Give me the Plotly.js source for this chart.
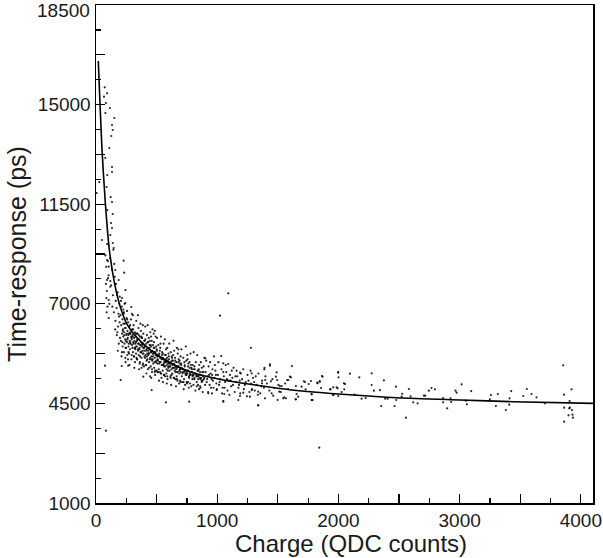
<!DOCTYPE html>
<html>
<head>
<meta charset="utf-8">
<script src="https://cdn.plot.ly/plotly-3.0.1.min.js"></script>
<style>html,body{margin:0;padding:0;background:#fff;}#chart{width:603px;height:558px;}</style>
</head>
<body>
<div id="chart"></div>
<script>
// ---------- tick labels ----------
const xTickVals = [0, 500, 1000, 1500, 2000, 2500, 3000, 3500, 4000];
const xTickText = ["0", "", "1000", "", "2000", "", "3000", "", "4000"];
const yTickVals = [1000, 2750, 4500, 6250, 8000, 9750, 11500, 13250, 15000, 16750, 18500];
const yTickText = ["1000", "", "4500", "", "7000", "", "11500", "", "15000", "", "18500"];

// ---------- fitted curve ----------
const fitCharge = [19, 50, 77, 110, 154, 200, 260, 363, 528, 775, 1050, 1325, 1600, 2000, 2480, 3000, 3442, 4100];
const fitTime   = [16530, 13400, 11550, 9900, 8700, 7900, 7250, 6700, 6140, 5610, 5320, 5140, 4980, 4830, 4700, 4620, 4560, 4500];

// ---------- events: steep low-charge region ----------
const steepCharge = [72, 91, 66, 82, 115, 77, 151, 132, 138, 126, 110, 77, 132, 132, 93, 27, 88, 5, 121, 132, 93, 138, 124, 132, 118, 138, 49, 146, 91, 228, 105, 159, 233, 91, 187, 118, 242, 173, 214, 105, 242, 291,
  82, 86, 88, 90, 95, 100, 105, 110, 84, 78, 92, 98, 104, 115, 118, 82, 74, 212, 266, 204];
const steepTime = [15607, 15397, 15277, 15056, 14880, 14704, 14529, 14283, 14107, 13896, 13474, 13123, 12807, 12631, 12526, 12279, 12104, 11893, 11752, 11577, 11296, 11155, 10839, 10663, 10417, 10136, 10242, 9960, 9539, 9514, 9303, 9187, 9092, 8836, 8836, 8600, 8484, 8309, 8203, 8133, 8028, 7887,
  8700, 8200, 7700, 8450, 7900, 8900, 7500, 8000, 9300, 9700, 10100, 9500, 9000, 9600, 8800, 3541, 5826, 5814, 5826, 5322];

// ---------- events: dense band ----------
const bandCharge = [
  125,132,140,148,155,160,163,170,172,178,182,185,188,192,195,198,150,165,176,143,158,190,196,135,180,
  202,205,208,210,212,215,218,220,222,225,228,230,232,235,238,240,242,245,248,250,252,255,258,260,262,265,268,270,272,275,278,280,282,285,288,290,292,295,298,300,206,226,244,256,276,296,214,236,264,284,
  302,305,308,310,312,315,318,320,322,325,328,330,332,335,338,340,342,345,348,350,352,355,358,360,362,365,368,370,372,375,378,380,382,385,388,390,392,395,398,400,304,316,334,346,356,366,376,386,396,324,344,364,384,336,374,
  402,405,408,410,412,415,418,420,422,425,428,430,432,435,438,440,442,445,448,450,452,455,458,460,462,465,468,470,472,475,478,480,482,485,488,490,492,495,498,500,406,426,446,466,486,416,436,456,476,496,424,444,464,484,454,
  502,506,510,514,518,522,526,530,534,538,542,546,550,554,558,562,566,570,574,578,582,586,590,594,598,504,520,536,552,568,584,512,528,544,560,576,592,540,564,588,508,532,556,580,596,
  602,607,612,617,622,627,632,637,642,647,652,657,662,667,672,677,682,687,692,697,604,620,640,660,680,698,614,634,654,674,694,630,650,670,690,610,645,665,685,625,
  702,708,714,720,726,732,738,744,750,756,762,768,774,780,786,792,798,705,723,741,759,777,795,717,735,753,771,789,729,747,765,783,711,756,799,
  803,810,817,824,831,838,845,852,859,866,873,880,887,894,806,820,835,850,865,880,895,812,828,842,858,872,888,900,848,862,
  905,913,921,929,937,945,953,961,969,977,985,993,909,925,941,957,973,989,917,933,949,965,981,997,958,
  1005,1015,1025,1035,1045,1055,1065,1075,1085,1095,1105,1115,1125,1135,1145,1155,1165,1175,1185,1195,1010,1040,1070,1100,1130,1160,1190,1020,1060,1110,1150,1180,1080,1120,1050,
  1205,1220,1235,1250,1265,1280,1295,1310,1325,1340,1355,1370,1385,1398,1215,1245,1275,1305,1335,1365,1390,1228,1258,1288,1318,
  1410,1430,1455,1470,1505,1525,1560,1585
];
const bandTime = [
  8650,9200,8300,7700,8950,7400,8100,7850,6900,8400,7200,7650,6600,8000,7350,6800,9400,8700,7000,9900,7100,7550,8250,7900,6350,
  7600,6700,7250,6150,7900,6950,7450,6500,7100,6850,7650,6300,7000,6600,7300,6750,6100,7150,6450,6900,7500,6650,6200,7050,6800,7350,6500,6950,6250,7200,6700,6400,7000,6600,7450,6850,6050,6750,7100,6450,8100,7800,5950,7750,5850,7650,6300,8000,6050,6950,
  6900,6300,6650,7250,6150,6800,6450,7000,5950,6600,6850,6250,7400,6500,6700,6050,6950,6400,6600,7150,6200,6750,6450,5900,6850,6550,6300,7050,6650,6100,6500,6800,6350,5850,6600,6950,6250,6450,6700,6150,7600,5750,6100,7600,5700,7300,5750,7250,5800,6400,6750,6150,6550,6950,6850,
  6500,6100,6750,5850,6350,6600,6000,6900,6250,6450,5700,6650,6200,6800,5950,6400,6550,6050,7000,6300,5800,6500,6150,6700,5600,6350,6050,6550,5900,6250,6650,5750,6450,6100,5500,6300,6850,5950,6200,5650,7200,7250,5450,7100,7050,5550,6250,5400,6950,6500,6050,6700,6000,5600,6850,
  6350,5900,6150,6550,5700,6250,5950,6450,5550,6100,5850,6300,5650,6050,6600,5800,6200,5450,5950,6400,5700,6100,5350,5900,6250,6800,5300,6850,5250,6750,5200,6000,5600,6200,5500,6050,5650,5400,5950,6450,5600,6600,5850,5550,5800,
  6050,5650,5900,6300,5500,6000,5750,6200,5400,5850,6100,5600,5950,6450,5300,5800,6050,5550,5900,5250,6600,5150,6700,5100,6400,6150,5450,6000,5350,6250,5700,5550,5750,5600,6000,5800,6350,5450,5200,6150,
  5850,5450,5700,6100,5350,5800,5550,6000,5200,5650,5900,5400,5750,6250,5100,5600,5850,6400,5000,6500,5250,5500,5350,5600,5150,6200,5950,5700,5950,5500,5050,5850,5250,6050,5500,
  5700,5350,5550,5950,5250,5650,5450,5850,5100,5500,5750,5300,5600,6100,6300,4950,6200,5000,5950,4900,5400,5800,5500,5150,5600,5250,5800,5150,5700,5350,
  5600,5250,5450,5800,5150,5550,5350,5700,5050,5400,5650,5200,6000,4900,5950,4850,6150,5500,5350,5500,5050,5300,5850,5000,5500,
  5500,5150,5350,5700,5050,5450,5250,5600,4950,5300,5500,5100,5400,5750,4900,5250,5450,5050,5300,5550,5950,4850,5850,4800,5150,5650,4850,5250,5050,5300,5450,5150,5350,5650,5600,
  5350,5000,5250,5500,4900,5200,5400,4950,5150,5550,4850,5300,5050,5450,5700,4750,5650,5250,4800,5100,5750,5150,5300,5000,5450,
  5200,4950,5350,5050,5150,4900,5200,5000
];

// ---------- events: dense core (extra) ----------
const coreCharge = [
  221,233,247,259,271,283,297,309,321,333,347,359,371,383,397,409,421,433,447,459,471,483,497,509,521,533,547,559,571,583,597,611,623,637,649,661,673,687,699,713,727,741,753,767,781,797,813,829,843,857,873,889,
  227,239,253,267,279,293,303,317,329,341,353,367,379,391,403,417,429,441,453,467,479,491,503,517,529,541,553,567,579,591,603,617,629,643,657,669,681,693,707,719,733,747,761,773,787,803,819,837,851,867,883,
  218,244,268,294,314,338,362,388,414,438,462,488,512,538,562,588,616,642,668,694,722,748,776,804,832,862,
  231,257,281,307,327,353,377,401,427,451,477,501,527,551,577,601,627,653,679,703,731,759,787,815,845,877
];
const coreTime = [
  7050,6900,6700,6750,6600,6650,6550,6600,6450,6500,6350,6400,6300,6250,6350,6200,6150,6250,6100,6050,6150,5950,6000,6050,5900,5950,5850,5900,5800,5850,5750,5800,5700,5750,5650,5700,5600,5650,5600,5550,5600,5500,5550,5450,5500,5450,5400,5450,5350,5400,5300,5350,
  7300,7150,6950,6900,6950,6800,6850,6700,6650,6750,6600,6550,6600,6450,6500,6400,6350,6450,6300,6250,6300,6200,6150,6200,6100,6050,6100,6000,5950,6000,5900,5950,5850,5900,5800,5750,5800,5700,5750,5700,5650,5600,5650,5550,5600,5500,5550,5450,5500,5400,5450,
  6650,6450,6300,6200,6150,6050,5950,5900,5850,5750,5700,5650,5600,5550,5500,5450,5400,5400,5350,5300,5250,5250,5200,5150,5100,5050,
  7700,7450,7250,7100,6950,6900,6800,6700,6650,6550,6450,6400,6350,6250,6200,6150,6100,6000,5950,5900,5850,5800,5750,5700,5650,5600
];

// ---------- events: tail (higher charge) ----------
const tailCharge = [1616,1517,1553,1586,1608,1649,1647,1668,1715,1729,1754,1773,1781,1779,1828,1845,1864,1856,1936,1957,1957,1998,2001,1993,1998,2026,2054,2048,2095,2133,2172,2191,2224,2274,2274,2293,2342,2353,2375,2386,2406,2463,2474,2477,2526,2521,2557,2581,2595,2617,2653,2705,2716,2746,2768,2796,2864,2864,2897,2925,2930,2966,2975,3016,3051,3060,3095,3249,3258,3299,3315,3381,3409,3412,3425,3524,3554,3593,3634,3703,3854,3860,3862,3862,3898,3904,3909,3923,3926,3931,3934,3907,1842,
  1091,1023,1278,901,1033,1050,1091,1435,1388,1188,1284,1490,1600,1998,1484,1869,1396,1443,1495,1578,1724,1825,1847,1369,1532,1696,1930,1985,2045,1284,1338,1215,1449,1512,1655,1779,1957,1270,1567,1649,1779,1050,1174,1188,1338,1498,1394,1787,926,995,1058,390,459,577,769,1050,1338,1462,1545,1435];
const tailTime = [5814,5111,4714,5322,5417,5111,4643,4736,5276,4995,5182,5287,4619,4819,5206,5276,5463,5041,4995,5065,4795,5603,5417,5030,4760,4900,5182,4995,5544,4805,5417,4665,4689,5557,5147,4946,4970,4408,5311,4665,4665,4408,5088,4619,4838,4736,4000,5006,4748,4538,4503,4771,4771,4946,5041,4995,4689,4538,4327,4678,4550,4946,4876,5170,4596,4468,4932,4643,4795,4408,4830,4268,4456,4678,4932,4760,5006,4830,4714,4503,5838,4805,4349,3857,4081,4327,4349,4995,4268,4104,4000,4584,2943,
  8368,7581,6453,6083,6164,5908,5884,5873,5697,5578,5557,5592,5440,5578,5440,5440,5322,5276,5322,5322,5252,5228,5262,5206,5111,5088,4995,5065,5206,4970,4912,4876,4854,4912,4830,4830,4795,4736,4678,4643,4619,4584,4619,4760,4432,4619,4678,4619,4854,4970,4830,5440,4970,4538,4560,4560,4432,4771,4678,5826];

const allCharge = steepCharge.concat(bandCharge, coreCharge, tailCharge);
const allTime = steepTime.concat(bandTime, coreTime, tailTime);

const FONT = '"Liberation Sans", Arial, Helvetica, sans-serif';
const TXT = '#1a1a1a';

// the top label sits at the very edge of the frame; it is drawn as an annotation nudged down so it stays in the picture
const topIdx = yTickVals.length - 1;
const yTickTextAxis = yTickText.map((t, i) => (i === topIdx ? '' : t));

const traces = [
  {
    type: 'scatter', mode: 'markers',
    x: allCharge, y: allTime,
    marker: {color: '#000', size: 2.2, opacity: 0.85},
    hoverinfo: 'skip', showlegend: false
  },
  {
    type: 'scatter', mode: 'lines',
    x: fitCharge, y: fitTime,
    line: {color: '#000', width: 1.6, shape: 'spline', smoothing: 0.8},
    hoverinfo: 'skip', showlegend: false
  }
];

const layout = {
  width: 603, height: 558,
  margin: {l: 96, r: 10, t: 5, b: 55},
  paper_bgcolor: '#fff', plot_bgcolor: '#fff',
  font: {family: FONT, color: TXT, size: 19},
  showlegend: false,
  xaxis: {
    range: [0, 4100], autorange: false,
    tickmode: 'array', tickvals: xTickVals, ticktext: xTickText,
    ticks: 'inside', ticklen: 9, tickwidth: 1.2, tickcolor: '#000',
    minor: {dtick: 250, tick0: 0, ticks: 'inside', ticklen: 5, tickwidth: 1.2, tickcolor: '#000', showgrid: false},
    showgrid: false, zeroline: false,
    showline: true, linecolor: '#000', linewidth: 1.5, mirror: true,
    ticklabeloverflow: 'allow',
    tickfont: {family: FONT, size: 19, color: TXT},
    title: {text: ''}
  },
  yaxis: {
    range: [1000, 18500], autorange: false,
    tickmode: 'array', tickvals: yTickVals, ticktext: yTickTextAxis,
    ticks: 'inside', ticklen: 9, tickwidth: 1.2, tickcolor: '#000',
    minor: {dtick: 875, tick0: 1000, ticks: 'inside', ticklen: 5, tickwidth: 1.2, tickcolor: '#000', showgrid: false},
    showgrid: false, zeroline: false,
    showline: true, linecolor: '#000', linewidth: 1.5, mirror: true,
    ticklabeloverflow: 'allow',
    tickfont: {family: FONT, size: 19, color: TXT},
    title: {text: 'Time-response (ps)', font: {family: FONT, size: 25, color: TXT}, standoff: 4}
  },
  annotations: [
    {
      text: 'Charge (QDC counts)', xref: 'paper', yref: 'paper',
      x: 0.513, y: -0.081, xanchor: 'center', yanchor: 'middle', showarrow: false,
      font: {family: FONT, size: 24, color: TXT}
    },
    {
      text: yTickText[topIdx], xref: 'paper', yref: 'y',
      x: 0, y: yTickVals[topIdx], xanchor: 'right', yanchor: 'middle', xshift: -4, yshift: -5,
      showarrow: false, font: {family: FONT, size: 19, color: TXT}
    }
  ]
};

Plotly.newPlot('chart', traces, layout, {displayModeBar: false, staticPlot: true});
</script>
</body>
</html>
